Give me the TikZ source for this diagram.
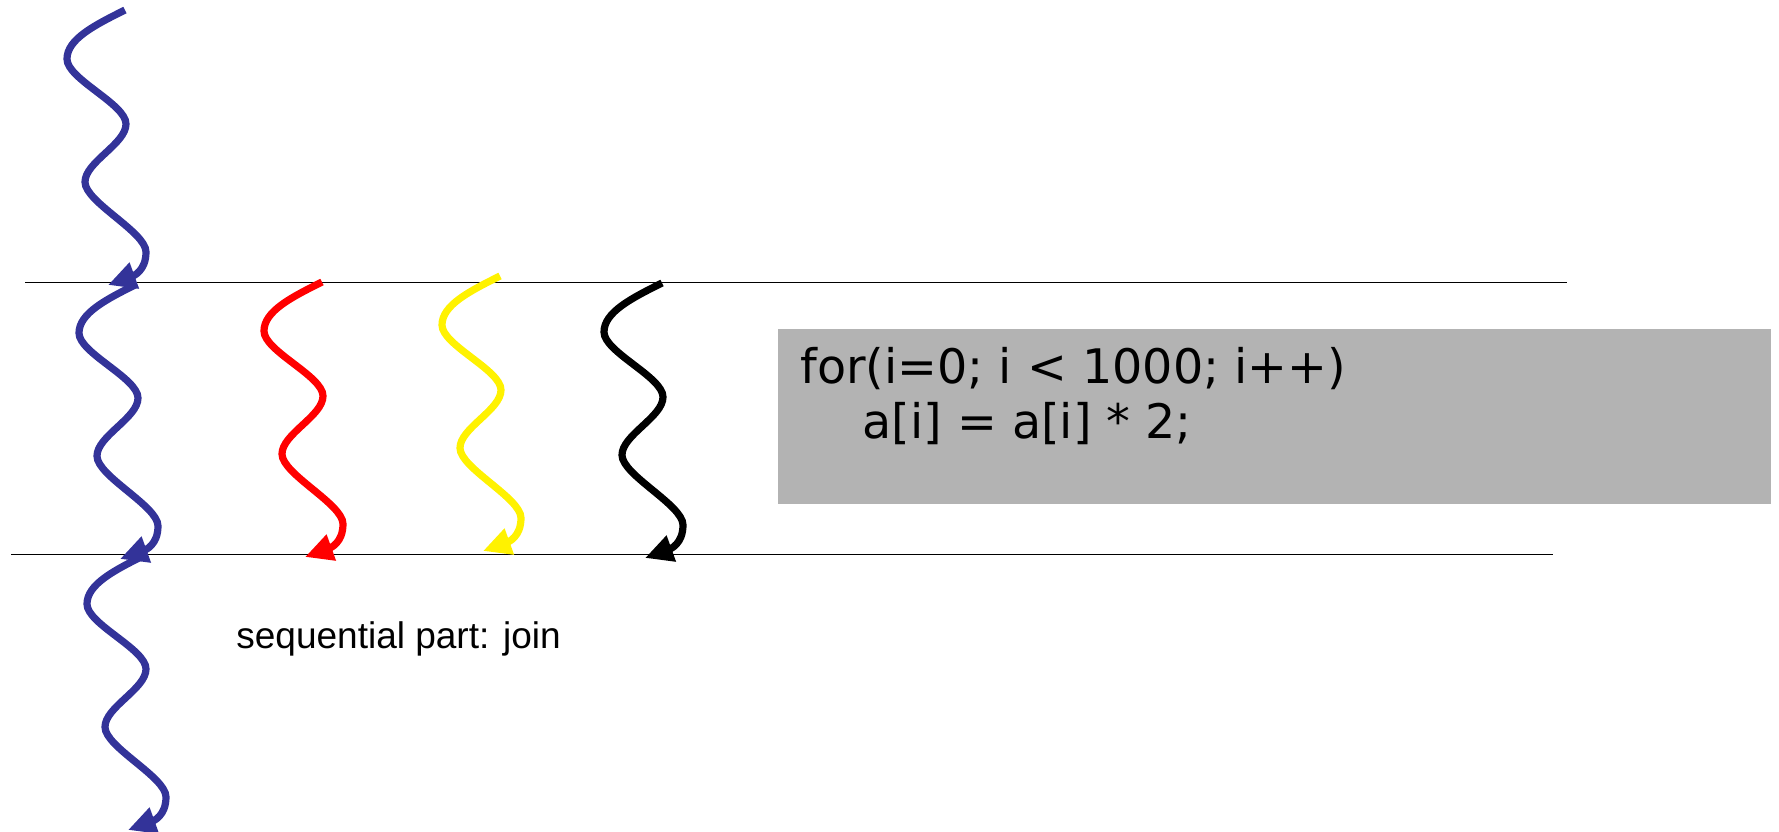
\documentclass[tikz,border=0pt]{standalone}
\usepackage{fontspec}
\setmainfont{Liberation Sans}
\newfontfamily\codefont{DejaVu Sans}
\usetikzlibrary{arrows.meta}
\definecolor{threadblue}{RGB}{51,51,153}
\definecolor{codegray}{RGB}{179,179,179}
\tikzset{
  thread/.pic={
    \draw[line width=3.6pt, -{Triangle[length=14pt,width=13pt]}]
      (0,0) .. controls (-30,15) and (-58,29) .. (-58,49)
      .. controls (-58,69) and (1,94) .. (1,114)
      .. controls (1,134) and (-40,152) .. (-40,172)
      .. controls (-40,192) and (21,222) .. (21,242)
      .. controls (21,261) and (8,266) .. (-17,275);
  },
  barrier/.style={draw=black, line width=0.5pt},
  codeline/.style={anchor=base west, inner sep=0pt, font=\codefont\fontsize{23.8}{28}\selectfont},
}
\begin{document}
\begin{tikzpicture}[x=0.5pt, y=-0.5pt]
  \useasboundingbox (0,0) rectangle (1779,831);

  % fork / join barriers
  \coordinate (b1l) at (25,282);
  \coordinate (b1r) at (1567,282);
  \coordinate (b2l) at (11,554);
  \coordinate (b2r) at (1553,554);
  \draw[barrier] (b1l) -- (b1r);
  \draw[barrier] (b2l) -- (b2r);

  % loop body shown in the grey panel
  \node[fill=codegray, draw=none, inner sep=0pt, minimum width=993pt*0.5, minimum height=175pt*0.5, anchor=north west] (panel) at (778,329) {};
  \node[codeline] (loop) at (800,383) {for(i=0; i < 1000; i++)};
  \node[codeline] (body) at (862,438) {a[i] = a[i] * 2;};

  % master thread
  \pic[color=threadblue] at (125,10) {thread};
  \pic[color=threadblue] at (137,284) {thread};
  \pic[color=threadblue] at (145,555) {thread};

  % worker threads
  \pic[color=red] at (322,282) {thread};
  \pic[color=yellow] at (500,276) {thread};
  \pic[color=black] at (662,283) {thread};

  \node[anchor=base west, inner sep=0pt, font=\fontsize{18.5}{22}\selectfont] (join) at (236,648) {sequential part: join};
\end{tikzpicture}
\end{document}
